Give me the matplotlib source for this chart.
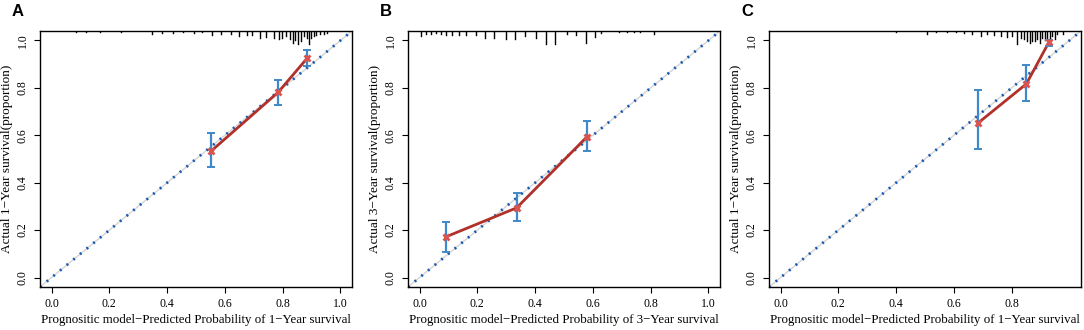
import matplotlib
matplotlib.use("Agg")
import matplotlib.pyplot as plt

plt.rcParams['font.family'] = ['Liberation Serif', 'DejaVu Serif']

# ---- data ----
# panel A : 1-year
a_pred = [0.551, 0.784, 0.884]
a_obs = [0.532, 0.781, 0.924]
a_lo = [0.467, 0.729, 0.893]
a_hi = [0.608, 0.833, 0.958]
a_rug_x = [0.086, 0.12, 0.167, 0.242, 0.346, 0.381, 0.421, 0.456, 0.493, 0.520,
           0.557, 0.586, 0.622, 0.650, 0.676, 0.693, 0.722, 0.743, 0.771, 0.786,
           0.797, 0.813, 0.826, 0.836, 0.844, 0.852, 0.863, 0.875, 0.884, 0.892,
           0.899, 0.907, 0.917, 0.928, 0.942, 0.954]
a_rug_n = [1, 1, 1, 1, 3, 2, 2, 1, 2, 1,
           4, 3, 3, 5, 4, 4, 7, 6, 7, 8,
           7, 5, 8, 12, 9, 13, 10, 5, 7, 13,
           7, 5, 4, 3, 3, 2]

# panel B : 3-year
b_pred = [0.090, 0.336, 0.579]
b_obs = [0.171, 0.294, 0.593]
b_lo = [0.108, 0.239, 0.532]
b_hi = [0.236, 0.358, 0.660]
b_rug_x = [0.006, 0.023, 0.041, 0.058, 0.075, 0.090, 0.113, 0.137, 0.160, 0.194,
           0.226, 0.258, 0.299, 0.330, 0.365, 0.403, 0.436, 0.469, 0.509, 0.542,
           0.576, 0.608, 0.627, 0.689, 0.718, 0.741, 0.764, 0.810]
b_rug_n = [5, 3, 3, 2, 3, 4, 4, 4, 4, 4,
           7, 7, 8, 8, 5, 7, 13, 13, 3, 4,
           12, 6, 2, 1, 1, 1, 1, 3]

# panel C : 1-year (validation)
c_pred = [0.685, 0.851, 0.929]
c_obs = [0.653, 0.817, 0.993]
c_lo = [0.542, 0.743, 0.975]
c_hi = [0.789, 0.896, 1.003]
c_rug_x = [0.398, 0.508, 0.537, 0.577, 0.606, 0.635, 0.664, 0.693, 0.716, 0.739,
           0.762, 0.785, 0.802, 0.820, 0.831, 0.843, 0.854, 0.863, 0.872, 0.881,
           0.889, 0.898, 0.906, 0.914, 0.924, 0.933, 0.941, 0.949, 0.958, 0.976]
c_rug_n = [1, 3, 1, 1, 1, 2, 3, 5, 3, 4,
           5, 6, 5, 13, 7, 8, 10, 12, 10, 10,
           8, 12, 7, 9, 8, 7, 5, 8, 3, 3]

panels = [
    ("A", a_pred, a_obs, a_lo, a_hi, a_rug_x, a_rug_n, "1", [0, 0.2, 0.4, 0.6, 0.8, 1.0]),
    ("B", b_pred, b_obs, b_lo, b_hi, b_rug_x, b_rug_n, "3", [0, 0.2, 0.4, 0.6, 0.8, 1.0]),
    ("C", c_pred, c_obs, c_lo, c_hi, c_rug_x, c_rug_n, "1", [0, 0.2, 0.4, 0.6, 0.8]),
]

W, H = 1084, 330
fig = plt.figure(figsize=(W / 100, H / 100), dpi=100)
lefts = [40, 408, 769]
ax_w, ax_top, ax_bot = 312, 31, 287

for (tag, px, py, lo, hi, rx, rn, yr, xt), L in zip(panels, lefts):
    ax = fig.add_axes([L / W, 1 - ax_bot / H, ax_w / W, (ax_bot - ax_top) / H])
    ax.set_xlim(-0.04, 1.04)
    ax.set_ylim(-0.04, 1.04)

    # ideal line
    ax.plot([-0.04, 1.04], [-0.04, 1.04], color='#d4d4d4', lw=1.0, zorder=1)
    ax.plot([-0.04, 1.04], [-0.04, 1.04], color='#1658b0', lw=2.0,
            linestyle=(0, (0.7, 2.4)), dash_capstyle='butt', zorder=2)

    # histogram spikes of predicted risk at top
    top = 1.04
    for x, n in zip(rx, rn):
        ax.plot([x, x], [top, top - n / 240.0], color='black', lw=1.0, zorder=3)

    # calibration curve
    ax.plot(px, py, color='#b0302a', lw=2.0, zorder=4)
    yerr = [[o - l for o, l in zip(py, lo)], [h - o for o, h in zip(py, hi)]]
    ax.errorbar(px, py, yerr=yerr, fmt='none', ecolor='#3f88c9', elinewidth=1.6,
                capsize=3, capthick=1.4, zorder=5)
    ax.plot(px, py, linestyle='none', marker='x', color='#d9534f', ms=4, mew=2.0, zorder=6)

    ax.set_xticks(xt)
    ax.set_xticklabels(["%.1f" % v for v in xt])
    ax.set_yticks([0, 0.2, 0.4, 0.6, 0.8, 1.0])
    ax.set_yticklabels(["0.0", "0.2", "0.4", "0.6", "0.8", "1.0"], rotation=90, va='center')
    ax.tick_params(direction='out', length=4, width=0.8, labelsize=8.5, pad=4)
    for s in ax.spines.values():
        s.set_linewidth(1.0)

    ax.set_xlabel("Prognositic model\u2212Predicted Probability of %s\u2212Year survival" % yr,
                  fontsize=9.3, labelpad=3)
    ax.set_ylabel("Actual %s\u2212Year survival(proportion)" % yr, fontsize=9.5, labelpad=3)

    fig.text((L - 28) / W, 1 - 12 / H, tag, fontsize=12, fontweight='bold',
             family='Liberation Sans', ha='left', va='center')

fig.savefig("out.png", dpi=100)
